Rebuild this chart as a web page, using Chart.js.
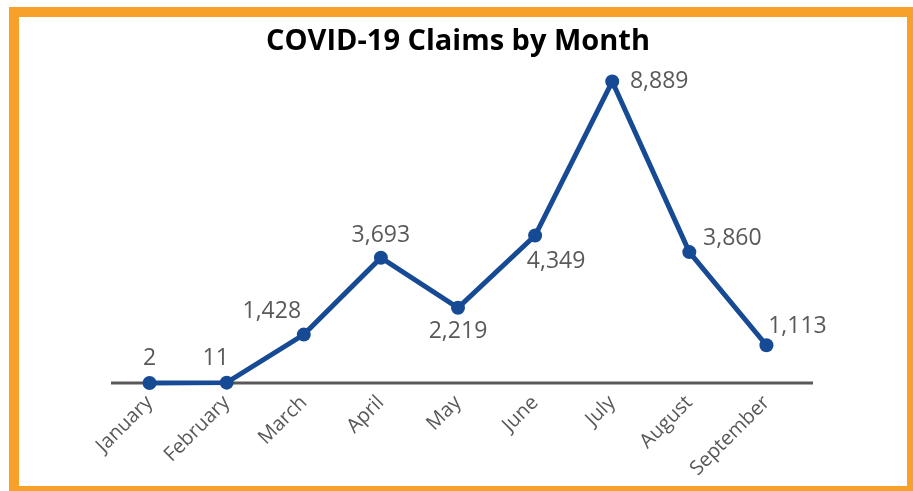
<!DOCTYPE html>
<html>
<head>
<meta charset="utf-8">
<script src="https://cdn.jsdelivr.net/npm/chart.js@4"></script>
<style>
  html, body { margin: 0; padding: 0; background: #fff; overflow: hidden; }
  #wrap { position: relative; width: 913px; height: 491px; }
  #frame {
    position: absolute; left: 9px; top: 7px; width: 908px; height: 489px;
    box-sizing: border-box; border: 10px solid #F7A12B; pointer-events: none;
  }
  canvas { position: absolute; left: 0; top: 0; }
</style>
</head>
<body>
<div id="wrap">
  <canvas id="grafica" width="913" height="491"></canvas>
  <div id="frame"></div>
</div>
<script>
// ─── DATOS ────────────────────────────────────────────────────────
const meses = ['January', 'February', 'March', 'April', 'May', 'June', 'July', 'August', 'September']
const reclamos = [2, 11, 1428, 3693, 2219, 4349, 8889, 3860, 1113]

// dónde va cada etiqueta respecto al punto (dx, dy en px)
const posEtiquetas = [
    [0, -24], [-11, -24], [-32, -23], [0, -22], [0, 24],
    [21, 26], [47, 0], [43, -14], [31, -19]
]

const colorLinea = '#174A94'
const colorTexto = '#595959'

// ─── PLUGIN: etiquetas de datos + línea del eje ───────────────────
const etiquetas = {
    id: 'etiquetas',
    beforeDatasetsDraw(chart) {
        const ctx = chart.ctx
        const a = chart.chartArea
        ctx.save()
        ctx.strokeStyle = colorTexto
        ctx.lineWidth = 3
        ctx.beginPath()
        ctx.moveTo(a.left, a.bottom)
        ctx.lineTo(a.right + 8, a.bottom)
        ctx.stroke()
        ctx.restore()
    },
    afterDatasetsDraw(chart) {
        const ctx = chart.ctx
        const meta = chart.getDatasetMeta(0)
        ctx.save()
        ctx.font = '23px "Open Sans"'
        ctx.fillStyle = colorTexto
        ctx.textAlign = 'center'
        ctx.textBaseline = 'middle'
        meta.data.forEach((pt, i) => {
            const [dx, dy] = posEtiquetas[i]
            ctx.fillText(reclamos[i].toLocaleString('en-US'), pt.x + dx, pt.y + dy)
        })
        ctx.restore()
    }
}

new Chart(document.getElementById('grafica'), {
    type: 'line',
    data: {
        labels: meses,
        datasets: [{
            data: reclamos,
            borderColor: colorLinea,
            backgroundColor: colorLinea,
            borderWidth: 5,
            pointRadius: 7,
            pointBackgroundColor: colorLinea,
            pointBorderWidth: 0,
            tension: 0,
            clip: false
        }]
    },
    options: {
        responsive: false,
        animation: false,
        layout: { padding: { top: 18, left: 111, right: 108, bottom: 0 } },
        plugins: {
            legend: { display: false },
            tooltip: { enabled: false },
            title: {
                display: true,
                text: 'COVID-19 Claims by Month',
                color: '#000',
                font: { family: '"Open Sans"', size: 29, weight: 'bold', lineHeight: 1.2 },
                padding: { top: 6, bottom: 19 }
            }
        },
        scales: {
            y: { display: false, min: 0, max: 9000 },
            x: {
                offset: true,
                grid: { display: false, drawTicks: false },
                border: { display: false },
                ticks: {
                    color: colorTexto,
                    font: { family: '"Open Sans"', size: 20 },
                    minRotation: 45,
                    maxRotation: 45,
                    padding: 8
                },
                afterFit(scale) { scale.height = 108 }
            }
        }
    },
    plugins: [etiquetas]
})
</script>
</body>
</html>
